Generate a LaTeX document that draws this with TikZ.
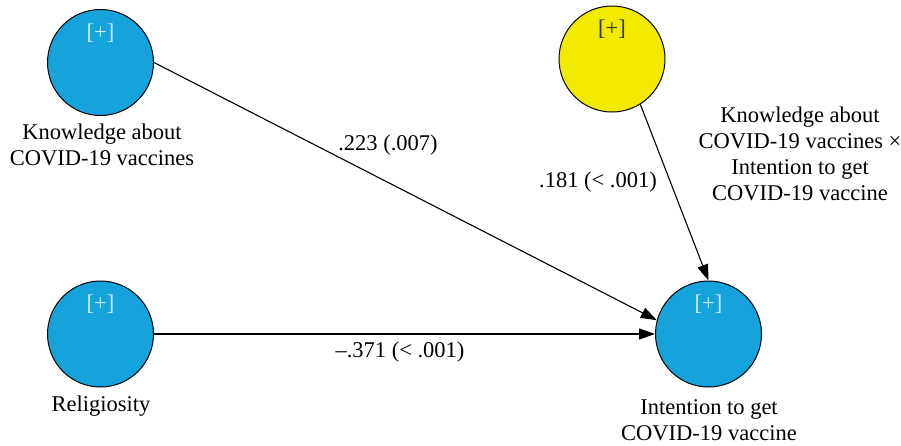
\documentclass[tikz,border=0pt]{standalone}
\usepackage{fontspec}
\setmainfont{Liberation Serif}
\usetikzlibrary{arrows.meta}
\definecolor{lvblue}{RGB}{22,163,220}
\definecolor{lvyellow}{RGB}{242,234,0}
\begin{document}
\begin{tikzpicture}[x=1pt,y=-1pt,
  lv/.style={circle, draw=black, line width=1pt, minimum size=106pt, inner sep=0pt},
  lab/.style={font=\fontsize{22.5}{26}\selectfont, align=center, inner sep=0pt},
  plusw/.style={font=\fontsize{22.5}{22.5}\selectfont, text=white!80!lvblue, inner sep=0pt},
  plusd/.style={font=\fontsize{22.5}{22.5}\selectfont, text=black!80, inner sep=0pt},
  conn/.style={line width=1.1pt, -{Triangle[length=16pt,width=11pt]}},
]
\useasboundingbox (0,0) rectangle (901,445);
% latent variables
\node[lv, fill=lvblue] (k) at (100.5,62.5) {};
\node[lv, fill=lvblue] (r) at (100.5,334) {};
\node[lv, fill=lvyellow] (m) at (612,59) {};
\node[lv, fill=lvblue] (i) at (708.5,334) {};
% [+] markers
\node[plusw] (kp) at (100.5,33) {[+]};
\node[plusw] (rp) at (100.5,304.5) {[+]};
\node[plusd] (mp) at (612,29.5) {[+]};
\node[plusw] (ip) at (708.5,304.5) {[+]};
% labels
\node[lab] (kl) at (102,145) {Knowledge about\\COVID-19 vaccines};
\node[lab] (rl) at (101,406) {Religiosity};
\node[lab] (il) at (709,420) {Intention to get\\COVID-19 vaccine};
\node[lab] (ml) at (800,154) {Knowledge about\\COVID-19 vaccines ×\\Intention to get\\COVID-19 vaccine};
% paths
\draw[conn] (k.0) -- (i.165);
\draw[conn] (r.0) -- (i.180);
\draw[conn] (m.-58) -- (i.90);
% path coefficients
\node[lab] (c1) at (388,145) {.223 (.007)};
\node[lab] (c2) at (598,182) {.181 (< .001)};
\node[lab] (c3) at (400,352) {–.371 (< .001)};
\end{tikzpicture}
\end{document}
